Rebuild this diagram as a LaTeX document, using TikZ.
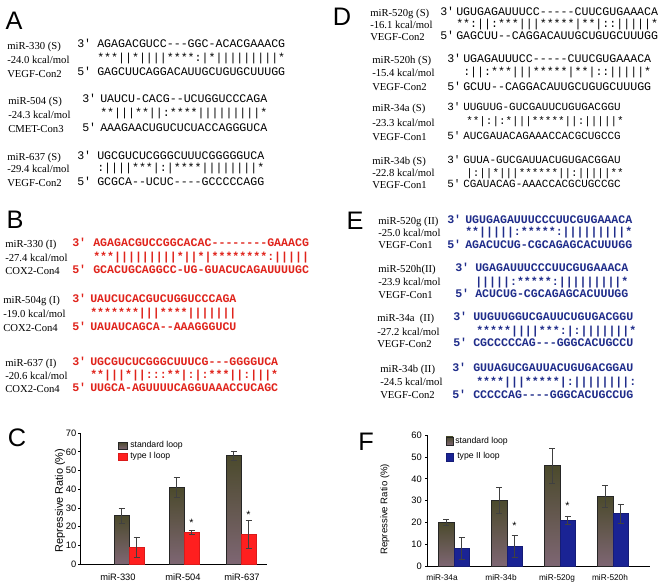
\documentclass[tikz,border=0pt]{standalone}
\usepackage{fontspec}
\usepackage{tikz}
\usetikzlibrary{positioning}
\newfontfamily\serifrm{Liberation Serif}
\newfontfamily\chartsf{Liberation Sans}
\setmonofont{Liberation Mono}
\definecolor{RnaRed}{HTML}{E0231B}
\definecolor{RnaBlue}{HTML}{1F2C8A}
\definecolor{BarRed}{HTML}{FF1F1F}
\definecolor{BarBlue}{HTML}{1A2394}
\definecolor{StdTop}{HTML}{4B4A2C}
\definecolor{StdBot}{HTML}{7E6673}

\begin{document}
\begin{tikzpicture}[x=0.75pt, y=-0.75pt,
  panel/.style={font=\chartsf\fontsize{19}{19}\selectfont, inner sep=0},
  lab/.style={anchor=west, inner sep=0, font=\serifrm\fontsize{8}{8}\selectfont, text height=5.2pt, text depth=0pt},
  seq/.style={anchor=west, inner sep=0, font=\ttfamily\fontsize{8.7}{9}\selectfont, text height=5.7pt, text depth=0pt},
  seqs/.style={seq, font=\ttfamily\fontsize{8.2}{9}\selectfont},
  seqI/.style={seq, font=\ttfamily\bfseries\fontsize{8.7}{9}\selectfont, text=RnaRed},
  seqII/.style={seq, font=\ttfamily\bfseries\fontsize{8.7}{9}\selectfont, text=RnaBlue},
  axis/.style={draw=black, line width=0.6pt},
  tick/.style={font=\chartsf\fontsize{7}{7}\selectfont, anchor=east, inner sep=0},
  leg/.style={font=\chartsf\fontsize{6.5}{7}\selectfont, anchor=west, inner sep=0},
  stdbar/.style={draw=black!85, line width=0.4pt, top color=StdTop, bottom color=StdBot},
  redbar/.style={fill=BarRed, draw=BarRed!85!black, line width=0.3pt},
  bluebar/.style={fill=BarBlue, draw=BarBlue!80!black, line width=0.3pt},
  errbar/.style={draw=black!75, line width=0.5pt},
  sig/.style={font=\chartsf\fontsize{8}{8}\selectfont, inner sep=0}]

\useasboundingbox[fill=white] (0,0) rectangle (661,586);

% ---- A : standard loop, VEGF / CMET
\node[panel] (pA) at (14,21) {A};
\node[lab] (a1name) at (7,46) {miR-330 (S)};
\node[lab] (a1kcal) at (7,60) {-24.0 kcal/mol};
\node[lab] (a1tgt) at (7,74) {VEGF-Con2};
\node[seq] (a1p3) at (77,44) {3'};
\node[seq] (a1p5) at (77,72) {5'};
\node[seq] (a1mir) at (97,44) {AGAGACGUCC---GGC-ACACGAAACG};
\node[seq] (a1pair) at (97,58) {***||*||||****:|*|||||||||*};
\node[seq] (a1mrna) at (97,72) {GAGCUUCAGGACAUUGCUGUGCUUUGG};

\node[lab] (a2name) at (8,101) {miR-504 (S)};
\node[lab] (a2kcal) at (8,115) {-24.3 kcal/mol};
\node[lab] (a2tgt) at (8,129) {CMET-Con3};
\node[seq] (a2p3) at (82,99) {3'};
\node[seq] (a2p5) at (82,128) {5'};
\node[seq] (a2mir) at (100,99) {UAUCU-CACG--UCUGGUCCCAGA};
\node[seq] (a2pair) at (100,113) {**|||**||:****|||||||||*};
\node[seq] (a2mrna) at (100,128) {AAAGAACUGUCUCUACCAGGGUCA};

\node[lab] (a3name) at (7,157) {miR-637 (S)};
\node[lab] (a3kcal) at (7,169) {-29.4 kcal/mol};
\node[lab] (a3tgt) at (7,183) {VEGF-Con2};
\node[seq] (a3p3) at (77,156) {3'};
\node[seq] (a3p5) at (77,182) {5'};
\node[seq] (a3mir) at (97,156) {UGCGUCUCGGGCUUUCGGGGGUCA};
\node[seq] (a3pair) at (97,168) {:||||***|:|****||||||||*};
\node[seq] (a3mrna) at (97,182) {GCGCA--UCUC----GCCCCCAGG};

% ---- B : type I loop, COX2
\node[panel] (pB) at (15,220) {B};
\node[lab] (b1name) at (5,244) {miR-330 (I)};
\node[lab] (b1kcal) at (5,258) {-27.4 kcal/mol};
\node[lab] (b1tgt) at (5,271) {COX2-Con4};
\node[seqI] (b1p3) at (72,243) {3'};
\node[seqI] (b1p5) at (72,270) {5'};
\node[seqI] (b1mir) at (93,243) {AGAGACGUCCGGCACAC--------GAAACG};
\node[seqI] (b1pair) at (93,257) {***|||||||||*||*|********:|||||};
\node[seqI] (b1mrna) at (93,270) {GCACUGCAGGCC-UG-GUACUCAGAUUUUGC};

\node[lab] (b2name) at (3,300) {miR-504g (I)};
\node[lab] (b2kcal) at (3,314) {-19.0 kcal/mol};
\node[lab] (b2tgt) at (3,328) {COX2-Con4};
\node[seqI] (b2p3) at (72,299) {3'};
\node[seqI] (b2p5) at (72,327) {5'};
\node[seqI] (b2mir) at (90,299) {UAUCUCACGUCUGGUCCCAGA};
\node[seqI] (b2pair) at (90,313) {*******|||****|||||||};
\node[seqI] (b2mrna) at (90,327) {UAUAUCAGCA--AAAGGGUCU};

\node[lab] (b3name) at (5,363) {miR-637 (I)};
\node[lab] (b3kcal) at (5,376) {-20.6 kcal/mol};
\node[lab] (b3tgt) at (5,389) {COX2-Con4};
\node[seqI] (b3p3) at (72,362) {3'};
\node[seqI] (b3p5) at (72,388) {5'};
\node[seqI] (b3mir) at (90,362) {UGCGUCUCGGGCUUUCG---GGGGUCA};
\node[seqI] (b3pair) at (90,375) {**|||*||:::**|:|:***||:|||*};
\node[seqI] (b3mrna) at (90,388) {UUGCA-AGUUUUCAGGUAAACCUCAGC};

% ---- C : repression, standard vs type I
\node[panel] (pC) at (17,438) {C};
\begin{scope}[shift={(80,564)}, x=0.75pt, y=1.4025pt]
  \draw[axis] (0,70) -- (0,0) -- (187,0);
  \foreach \v in {0,10,...,70} {
    \draw[axis] (-2,\v) -- (0,\v);
    \node[tick] (ct\v) at (-3.5,\v) {\v};
  }
  \draw[stdbar] (34,0) rectangle (49,26);
  \draw[redbar] (49,0) rectangle (64,9);
  \draw[stdbar] (89,0) rectangle (104,41);
  \draw[redbar] (104,0) rectangle (119,17);
  \draw[stdbar] (146,0) rectangle (161,58);
  \draw[redbar] (161,0) rectangle (176,16);
  \foreach \x/\v/\e in {41.5/26/4, 56.5/9/5.5, 96.5/41/5.5, 111.5/17/1, 153.5/58/2.5, 168.5/16/7.5}
    \draw[errbar] (\x-3,\v+\e) -- (\x+3,\v+\e) (\x,\v+\e) -- (\x,\v-\e) (\x-3,\v-\e) -- (\x+3,\v-\e);
  \node[sig] (cs1) at (111.5,22) {*};
  \node[sig] (cs2) at (168.5,26.5) {*};
  \draw[stdbar] (38,61.5) rectangle (47,65.2);
  \node[leg] (cl1) at (50,63.4) {standard loop};
  \draw[redbar] (38,55.6) rectangle (47,59.4);
  \node[leg] (cl2) at (50,57.5) {type I loop};
  \node[font=\chartsf\fontsize{7}{7}\selectfont] (cx1) at (38,-7) {miR-330};
  \node[font=\chartsf\fontsize{7}{7}\selectfont] (cx2) at (103,-7) {miR-504};
  \node[font=\chartsf\fontsize{7}{7}\selectfont] (cx3) at (162,-7) {miR-637};
  \node[font=\chartsf\fontsize{8.2}{9}\selectfont, rotate=90] (cy) at (-20,34) {Repressive Ratio (\%)};
\end{scope}

% ---- D : standard loop, VEGF
\node[panel] (pD) at (342,17) {D};
\node[lab] (d1name) at (370,13) {miR-520g (S)};
\node[lab] (d1kcal) at (370,25) {-16.1 kcal/mol};
\node[lab] (d1tgt) at (370,37) {VEGF-Con2};
\node[seq] (d1p3) at (440,12) {3'};
\node[seq] (d1p5) at (440,36) {5'};
\node[seq] (d1mir) at (456,12) {UGUGAGAUUUCC-----CUUCGUGAAACA};
\node[seq] (d1pair) at (456,24) {**:||:***|||*****|**|::|||||*};
\node[seq] (d1mrna) at (456,36) {GAGCUU--CAGGACAUUGCUGUGCUUUGG};

\node[lab] (d2name) at (372,60) {miR-520h (S)};
\node[lab] (d2kcal) at (372,73) {-15.4 kcal/mol};
\node[lab] (d2tgt) at (372,87) {VEGF-Con2};
\node[seq] (d2p3) at (447,59) {3'};
\node[seq] (d2p5) at (447,87) {5'};
\node[seq] (d2mir) at (463,59) {UGAGAUUUCC-----CUUCGUGAAACA};
\node[seq] (d2pair) at (463,72) {:||:***|||*****|**|::|||||*};
\node[seq] (d2mrna) at (463,87) {GCUU--CAGGACAUUGCUGUGCUUUGG};

\node[lab] (d3name) at (372,108) {miR-34a (S)};
\node[lab] (d3kcal) at (372,123) {-23.3 kcal/mol};
\node[lab] (d3tgt) at (372,137) {VEGF-Con1};
\node[seqs] (d3p3) at (447,107) {3'};
\node[seqs] (d3p5) at (447,136) {5'};
\node[seqs] (d3mir) at (463,107) {UUGUUG-GUCGAUUCUGUGACGGU};
\node[seqs] (d3pair) at (466,121) {**|:|:*|||*****||:|||||*};
\node[seqs] (d3mrna) at (463,136) {AUCGAUACAGAAACCACGCUGCCG};

\node[lab] (d4name) at (372,161) {miR-34b (S)};
\node[lab] (d4kcal) at (372,173) {-22.8 kcal/mol};
\node[lab] (d4tgt) at (372,185) {VEGF-Con1};
\node[seqs] (d4p3) at (447,160) {3'};
\node[seqs] (d4p5) at (447,184) {5'};
\node[seqs] (d4mir) at (463,160) {GUUA-GUCGAUUACUGUGACGGAU};
\node[seqs] (d4pair) at (466,173) {|:||*|||******||:|||||**};
\node[seqs] (d4mrna) at (463,184) {CGAUACAG-AAACCACGCUGCCGC};

% ---- E : type II loop, VEGF
\node[panel] (pE) at (355,221) {E};
\node[lab] (e1name) at (378,221) {miR-520g (II)};
\node[lab] (e1kcal) at (378,233) {-25.0 kcal/mol};
\node[lab] (e1tgt) at (378,245) {VEGF-Con1};
\node[seqII] (e1p3) at (447,220) {3'};
\node[seqII] (e1p5) at (447,245) {5'};
\node[seqII] (e1mir) at (465,220) {UGUGAGAUUUCCCUUCGUGAAACA};
\node[seqII] (e1pair) at (465,232) {**|||||:*****:|||||||||*};
\node[seqII] (e1mrna) at (465,245) {AGACUCUG-CGCAGAGCACUUUGG};

\node[lab] (e2name) at (378,269) {miR-520h(II)};
\node[lab] (e2kcal) at (378,282) {-23.9 kcal/mol};
\node[lab] (e2tgt) at (378,295) {VEGF-Con1};
\node[seqII] (e2p3) at (455,268) {3'};
\node[seqII] (e2p5) at (455,294) {5'};
\node[seqII] (e2mir) at (475,268) {UGAGAUUUCCCUUCGUGAAACA};
\node[seqII] (e2pair) at (475,282) {|||||:*****:|||||||||*};
\node[seqII] (e2mrna) at (475,294) {ACUCUG-CGCAGAGCACUUUGG};

\node[lab] (e3name) at (377,318) {miR-34a~ (II)};
\node[lab] (e3kcal) at (377,332) {-27.2 kcal/mol};
\node[lab] (e3tgt) at (377,344) {VEGF-Con2};
\node[seqII] (e3p3) at (453,317) {3'};
\node[seqII] (e3p5) at (453,343) {5'};
\node[seqII] (e3mir) at (473,317) {UUGUUGGUCGAUUCUGUGACGGU};
\node[seqII] (e3pair) at (476,331) {*****||||***:|:|||||||*};
\node[seqII] (e3mrna) at (473,343) {CGCCCCCAG---GGGCACUGCCU};

\node[lab] (e4name) at (380,369) {miR-34b (II)};
\node[lab] (e4kcal) at (380,382) {-24.5 kcal/mol};
\node[lab] (e4tgt) at (380,395) {VEGF-Con2};
\node[seqII] (e4p3) at (452,368) {3'};
\node[seqII] (e4p5) at (452,395) {5'};
\node[seqII] (e4mir) at (473,368) {GUUAGUCGAUUACUGUGACGGAU};
\node[seqII] (e4pair) at (476,382) {****|||*****|:||||||||:};
\node[seqII] (e4mrna) at (473,395) {CCCCCAG----GGGCACUGCCUG};

% ---- F : repression, standard vs type II
\node[panel] (pF) at (366,442) {F};
\begin{scope}[shift={(427,566)}, x=0.75pt, y=1.635pt]
  \draw[axis] (0,60) -- (0,0) -- (223,0);
  \foreach \v in {0,10,...,60} {
    \draw[axis] (-2,\v) -- (0,\v);
    \node[tick] (ft\v) at (-5,\v) {\v};
  }
  \draw[stdbar] (11,0) rectangle (27,20);
  \draw[bluebar] (27,0) rectangle (42,8);
  \draw[stdbar] (64,0) rectangle (80,30);
  \draw[bluebar] (80,0) rectangle (95,9);
  \draw[stdbar] (117,0) rectangle (133,46);
  \draw[bluebar] (133,0) rectangle (148,21);
  \draw[stdbar] (170,0) rectangle (186,32);
  \draw[bluebar] (186,0) rectangle (201,24);
  \foreach \x/\v/\e in {19/20/1.5, 34.5/8/5, 72/30/6, 87.5/9/5, 125/46/8, 140.5/21/2, 178/32/5, 193.5/24/4.5}
    \draw[errbar] (\x-3,\v+\e) -- (\x+3,\v+\e) (\x,\v+\e) -- (\x,\v-\e) (\x-3,\v-\e) -- (\x+3,\v-\e);
  \node[sig] (fs1) at (87.5,18.5) {*};
  \node[sig] (fs2) at (140.5,27.5) {*};
  \draw[stdbar] (19,55.5) rectangle (26,59.2);
  \node[leg] (fl1) at (28,57.4) {standard loop};
  \draw[bluebar] (19,48.2) rectangle (26,51.8);
  \node[leg] (fl2) at (30,50.3) {type II loop};
  \node[font=\chartsf\fontsize{6.2}{7}\selectfont] (fx1) at (15,-5.5) {miR-34a};
  \node[font=\chartsf\fontsize{6.2}{7}\selectfont] (fx2) at (74,-5.5) {miR-34b};
  \node[font=\chartsf\fontsize{6.2}{7}\selectfont] (fx3) at (130,-5.5) {miR-520g};
  \node[font=\chartsf\fontsize{6.2}{7}\selectfont] (fx4) at (183,-5.5) {miR-520h};
  \node[font=\chartsf\fontsize{7.2}{8}\selectfont, rotate=90] (fy) at (-42,26) {Repressive Ratio (\%)};
\end{scope}
\end{tikzpicture}
\end{document}
